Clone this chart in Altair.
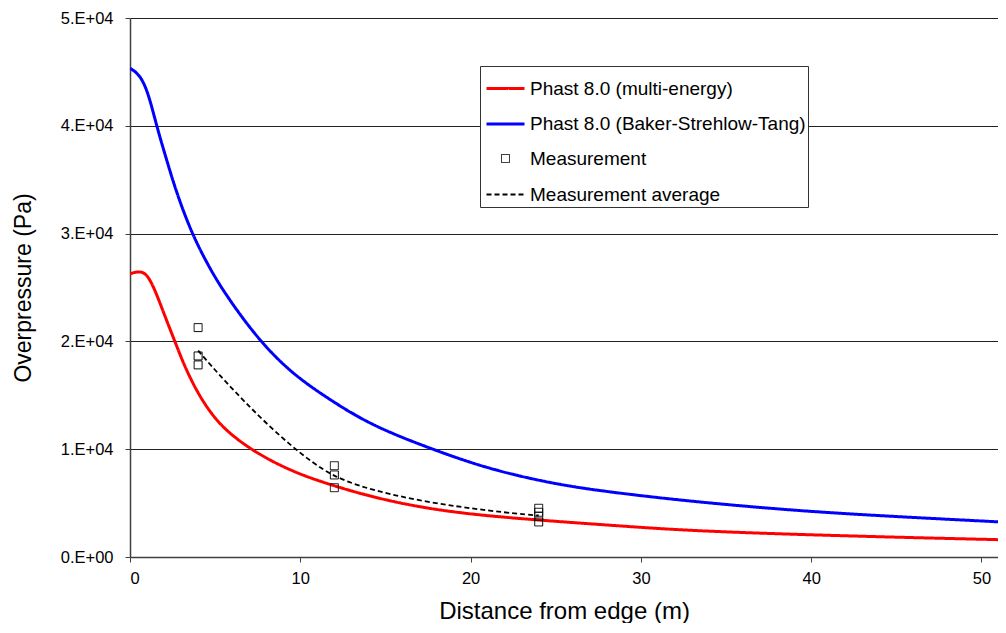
import altair as alt
import pandas as pd

# ---- axis ticks ----
x_ticks = [0, 10, 20, 30, 40, 50]
y_ticks = [0, 10000, 20000, 30000, 40000, 50000]
y_tick_labels = ["0.E+00", "1.E+04", "2.E+04", "3.E+04", "4.E+04", "5.E+04"]

# ---- series names ----
series_names = [
    "Phast 8.0 (multi-energy)",
    "Phast 8.0 (Baker-Strehlow-Tang)",
    "Measurement",
    "Measurement average",
]

# ---- Phast multi-energy (red) ----
me_x = [0, 0.3, 0.6, 1.0, 1.47, 2.06, 2.64, 3.13, 3.82, 4.6, 5.58, 7.34, 9.3,
        11.16, 14.09, 17.03, 19.96, 23.88, 28.77, 32.5, 37.4, 42.3, 46.9, 51.5]
me_y = [26270, 26420, 26480, 26250, 24780, 22300, 19980, 17980, 15660, 13640, 11750, 9700, 8100,
        6990, 5600, 4610, 3960, 3430, 2880, 2480, 2180, 1950, 1760, 1590]

# ---- Phast Baker-Strehlow-Tang (blue) ----
bst_x = [0, 0.59, 1.08, 1.57, 2.15, 2.74, 3.62, 4.6, 5.58, 7.54, 9.49, 11.45,
         14.09, 17.6, 20.95, 24.86, 28.0, 32.5, 37.4, 42.3, 51.5]
bst_y = [45350, 44730, 43030, 39940, 36840, 33750, 30040, 27000, 24400, 20140, 17050, 14880,
         12250, 10080, 8200, 6780, 6050, 5230, 4520, 3960, 3220]

# ---- measurements ----
meas_x = [4, 4, 4, 12, 12, 12, 24, 24, 24, 24]
meas_y = [21280, 18650, 17820, 8470, 7610, 6430, 4520, 4150, 3780, 3250]

# ---- measurement average ----
avg_x = [4, 12, 24]
avg_y = [19150, 7550, 3850]

curves = pd.concat([
    pd.DataFrame({"x": me_x, "y": me_y, "series": series_names[0]}),
    pd.DataFrame({"x": bst_x, "y": bst_y, "series": series_names[1]}),
])
meas = pd.DataFrame({"x": meas_x, "y": meas_y, "series": series_names[2]})
avg = pd.DataFrame({"x": avg_x, "y": avg_y, "series": series_names[3]})

# small square drawn inside a 38px symbol box, so every legend row is the same height
small_square = "M-0.21,-0.21H0.21V0.21H-0.21Z"

color_scale = alt.Scale(domain=series_names, range=["#FF0000", "#0000FF", "#000000", "#000000"])
dash_scale = alt.Scale(domain=series_names, range=[[1, 0], [1, 0], [1, 0], [5, 3]])
width_scale = alt.Scale(type="ordinal", domain=series_names, range=[3, 3, 1, 1.8])
shape_scale = alt.Scale(domain=series_names, range=["stroke", "stroke", small_square, "stroke"])
size_scale = alt.Scale(type="ordinal", domain=series_names, range=[1444, 1444, 1444, 1444])

def leg():
    return alt.Legend(title=None, orient="none", legendX=350, legendY=48,
                      gridAlign="all", labelLimit=500)

x_enc = alt.X("x:Q", scale=alt.Scale(domain=[0, 50.97], nice=False),
              axis=alt.Axis(values=x_ticks, grid=False, title="Distance from edge (m)",
                            labelPadding=8, titlePadding=13, format="d"))
labels_js = "[" + ",".join("'%s'" % s for s in y_tick_labels) + "]"
values_js = "[" + ",".join(str(v) for v in y_ticks) + "]"
y_enc = alt.Y("y:Q", scale=alt.Scale(domain=[0, 50000], nice=False),
              axis=alt.Axis(values=y_ticks, grid=True, title="Overpressure (Pa)",
                            labelExpr=labels_js + "[indexof(" + values_js + ", datum.value)]",
                            labelPadding=12, titleX=-95, titleBaseline="bottom"))

color = alt.Color("series:N", scale=color_scale, legend=leg())
dash = alt.StrokeDash("series:N", scale=dash_scale, legend=leg())
sw = alt.StrokeWidth("series:N", scale=width_scale, legend=leg())

model_lines = alt.Chart(curves).mark_line(interpolate="basis", clip=True).encode(
    x=x_enc, y=y_enc, color=color, strokeDash=dash, strokeWidth=sw,
    detail="series:N")

avg_line = alt.Chart(avg).mark_line(interpolate="catmull-rom").encode(
    x=x_enc, y=y_enc, color=color, strokeDash=dash, strokeWidth=sw)

points = alt.Chart(meas).mark_point(filled=False, opacity=1).encode(
    x=x_enc, y=y_enc, color=color, strokeDash=dash, strokeWidth=sw,
    shape=alt.Shape("series:N", scale=shape_scale, legend=leg()),
    size=alt.Size("series:N", scale=size_scale, legend=leg()))

chart = alt.layer(model_lines, avg_line, points).properties(
    width=868, height=539,
    autosize=alt.AutoSizeParams(type="none"),
    padding={"left": 122, "top": 10, "right": 0, "bottom": 66},
).configure_view(stroke="transparent").configure_axis(
    labelFont="Liberation Sans", labelFontSize=16.5, labelColor="#000000",
    titleFont="Liberation Sans", titleFontSize=23, titleFontWeight="normal", titleColor="#000000",
    domainColor="#404040", domainWidth=1.5, tickColor="#404040", tickSize=5,
    gridColor="#222222", gridWidth=1,
).configure_axisX(titleFontSize=24).configure_legend(
    labelFont="Liberation Sans", labelFontSize=19, labelColor="#000000",
    strokeColor="#333333", fillColor="#FFFFFF", padding=2, rowPadding=4.5,
    symbolOffset=3, labelOffset=4, symbolOpacity=1,
)

chart.save("out.html", embed_options={"renderer": "svg", "actions": False})
